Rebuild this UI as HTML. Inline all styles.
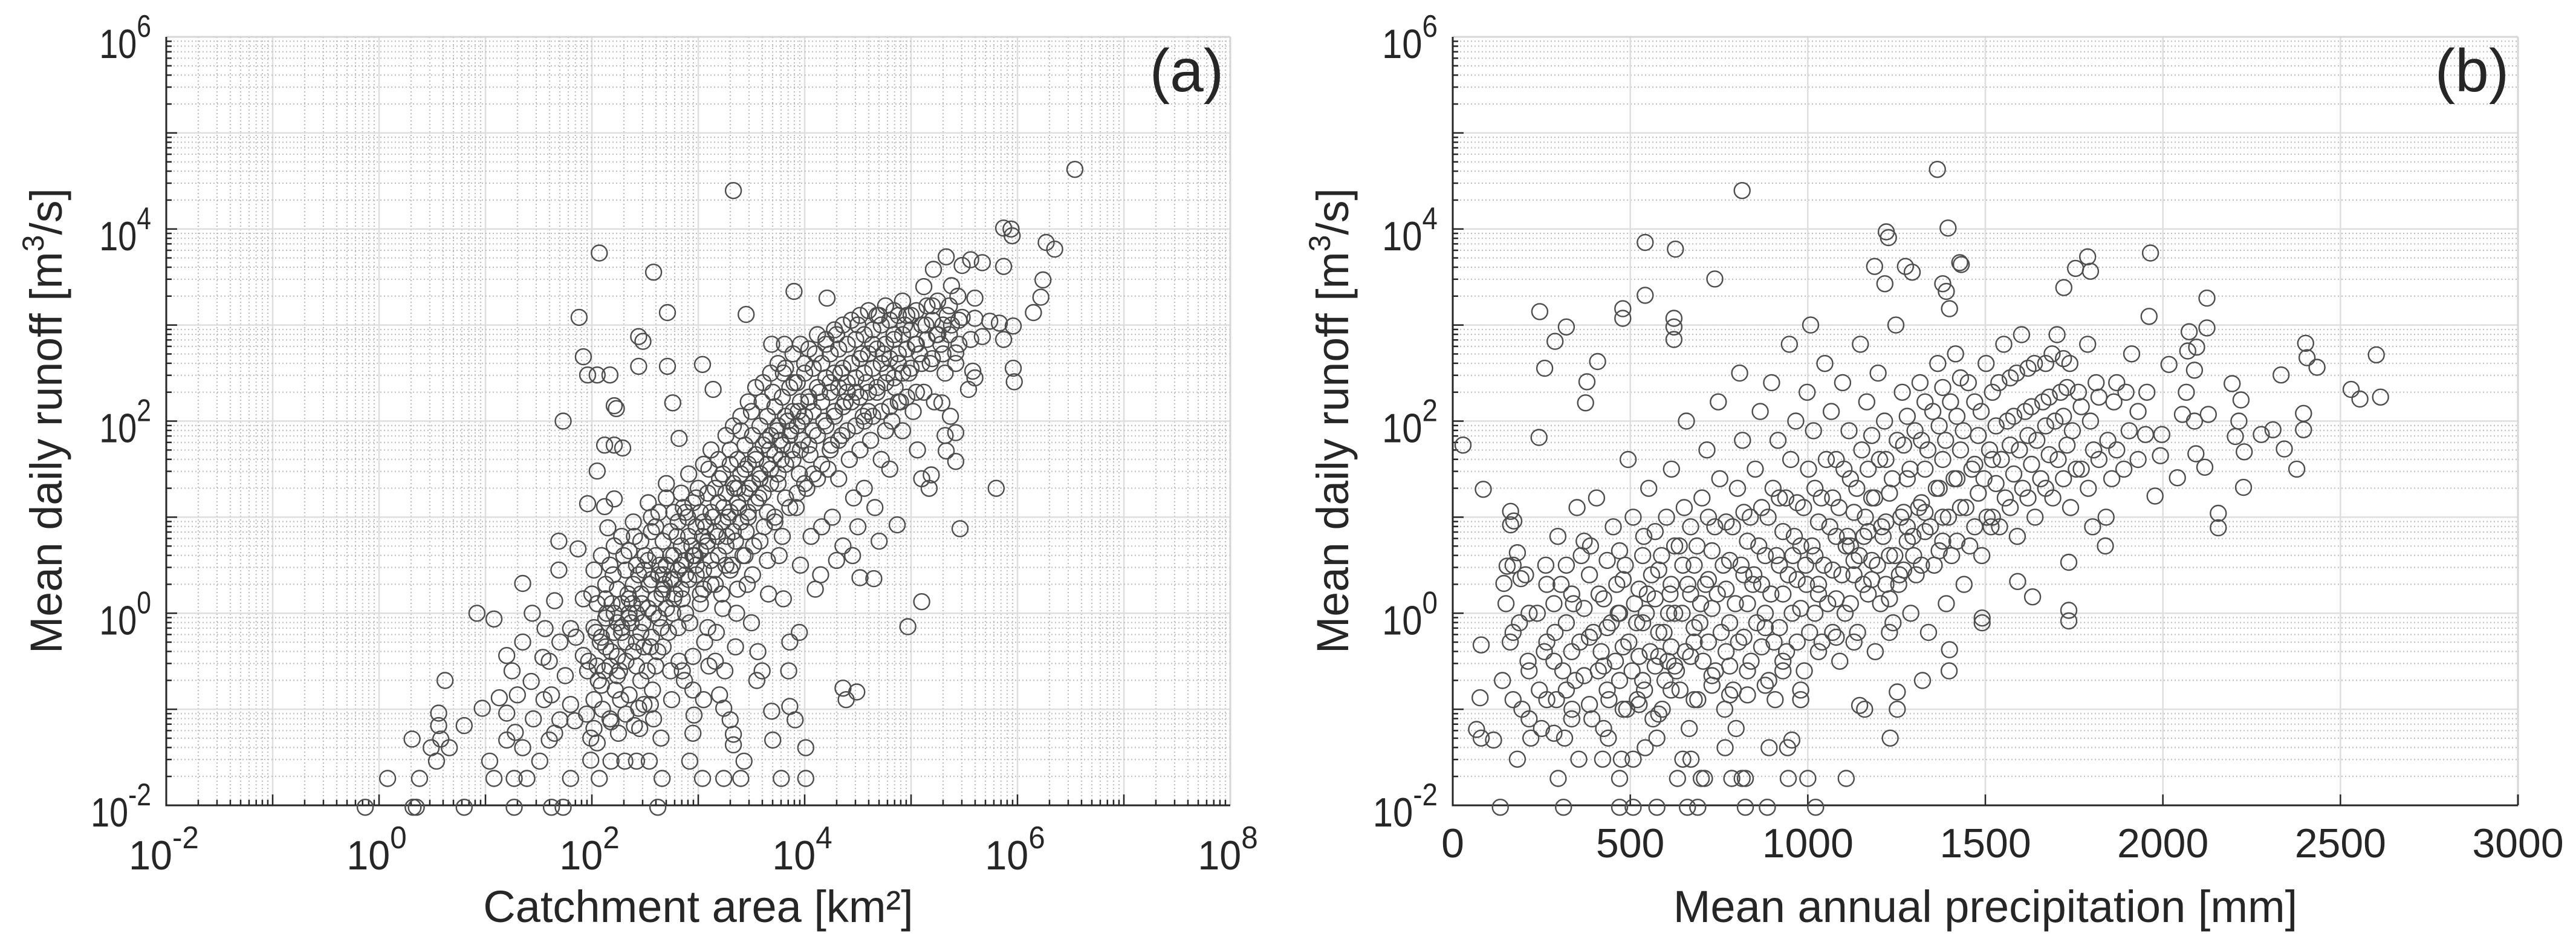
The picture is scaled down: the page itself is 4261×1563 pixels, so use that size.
<!DOCTYPE html>
<html><head><meta charset="utf-8"><title>Runoff scatter</title>
<style>html,body{margin:0;padding:0;background:#fff}svg{display:block}text{font-family:"Liberation Sans",Arial,sans-serif;fill:#262626}</style>
</head><body>
<svg id="fig" width="4261" height="1563" viewBox="0 0 4261 1563" xmlns="http://www.w3.org/2000/svg">
<rect x="0" y="0" width="4261" height="1563" fill="#fff"/>
<g id="panelA"></g>
<g id="panelB"></g>
</svg>
<script>
// ---- data (log10 values for log axes) ----
const yTickExponents = [-2, 0, 2, 4, 6];
const xTickExponentsA = [-2, 0, 2, 4, 6, 8];
const xTickLabelsB = [0, 500, 1000, 1500, 2000, 2500, 3000];
// panel (a): [log10 catchment area km2, log10 mean daily runoff m3/s]
const catchmentRunoffPairs = [
[-0.13,-2.02],[0.08,-1.72],[0.32,-2.02],[0.35,-2.02],[0.38,-1.72],[0.31,-1.31],[0.54,-1.54],[0.49,-1.4],[0.58,-1.31],[0.56,-1.17],[0.56,-1.04],[0.66,-1.4],[0.62,-0.7],[0.8,-2.02],[0.8,-1.17],[0.92,0.0],[0.97,-0.99],[1.04,-1.54],[1.08,-1.72],[1.08,-0.06],[1.13,-0.88],[1.2,-1.04],[1.2,-1.32],[1.27,-2.02],[1.27,-1.72],[1.28,-1.24],[1.2,-0.44],[1.25,-0.6],[1.35,-0.3],[1.3,-0.85],[1.39,-1.72],[1.35,-1.4],[1.35,0.31],[1.44,0.0],[1.43,-0.71],[1.51,-1.54],[1.54,-0.46],[1.56,-0.16],[1.6,-1.32],[1.62,-0.85],[1.62,-2.02],[1.69,0.45],[1.69,0.75],[1.65,0.13],[1.7,-1.11],[1.73,2.0],[1.73,-2.02],[1.8,-1.72],[1.8,-0.16],[1.84,-1.12],[1.88,3.08],[1.87,0.67],[1.92,0.15],[1.92,-0.44],[1.96,1.14],[1.96,-0.6],[1.99,-1.3],[1.99,-1.53],[1.92,2.67],[1.96,2.48],[2.05,2.48],[2.17,2.48],[2.07,3.75],[2.05,1.48],[2.12,1.75],[2.21,1.75],[2.29,1.72],[2.23,2.13],[2.21,2.16],[2.21,1.19],[2.12,1.11],[2.15,0.89],[2.07,-1.72],[2.18,-1.54],[2.31,-1.54],[2.42,-1.54],[2.54,-1.54],[2.18,-1.13],[2.4,-1.17],[2.44,-0.99],[2.58,-1.1],[2.44,2.88],[2.48,2.83],[2.44,2.57],[2.58,3.55],[2.71,3.13],[2.71,2.57],[2.76,2.19],[2.82,1.82],[2.62,-2.02],[2.66,-1.72],[2.92,-1.54],[2.96,-1.06],[3.04,2.59],[3.14,2.33],[3.04,-1.72],[3.24,-1.72],[3.43,-1.54],[3.4,-1.72],[3.24,-0.99],[3.3,-1.11],[3.33,-1.26],[3.33,-1.37],[3.33,4.4],[3.45,3.11],[3.69,2.8],[3.81,2.8],[3.9,3.35],[3.69,-1.02],[3.7,-1.32],[3.78,-1.72],[3.86,-0.97],[3.91,-1.11],[4.01,-1.4],[4.01,-1.72],[4.21,3.28],[4.36,-0.78],[4.39,-0.9],[4.49,-0.82],[4.52,0.37],[4.65,0.36],[4.87,0.92],[4.97,-0.14],[5.1,0.12],[5.46,0.88],[5.8,1.3],[5.42,1.58],[5.42,1.88],[5.33,1.69],[5.32,1.85],[5.96,2.55],[5.97,2.41],[5.87,4.01],[5.95,3.93],[5.94,4.0],[6.27,3.86],[6.35,3.79],[6.24,3.47],[6.22,3.29],[6.15,3.13],[5.33,3.71],[5.21,3.58],[5.48,3.62],[5.56,3.68],[5.67,3.65],[5.87,3.61],[5.12,3.4],[5.38,3.41],[5.6,3.28],[5.48,3.08],[5.6,3.07],[5.74,3.04],[5.83,3.02],[5.96,2.99],[5.67,2.88],[5.56,2.85],[5.87,2.85],[5.42,2.71],[5.58,2.52],[5.6,2.45],[5.54,2.33],[5.29,2.19],[5.37,2.05],[5.19,1.44],[5.17,1.3],[6.54,4.62],
[2.02,-0.9],[1.97,-0.5],[2.04,-0.2],[2.0,0.2],[2.06,-0.7],
[2.12,-0.6],[2.08,-0.3],[2.14,0.0],[2.1,-1.0],[2.13,0.3],
[2.22,-0.8],[2.18,-0.4],[2.24,-0.1],[2.2,0.4],[2.26,-0.6],[2.19,0.1],
[2.32,-0.5],[2.28,-0.2],[2.34,0.2],[2.3,0.6],[2.27,-0.9],[2.35,0.0],
[2.42,-0.3],[2.38,0.1],[2.44,0.4],[2.4,0.8],[2.46,-0.7],[2.37,-0.1],
[2.52,-0.6],[2.48,-0.1],[2.54,0.3],[2.5,0.6],[2.56,1.0],[2.47,0.1],
[2.62,-0.4],[2.58,0.0],[2.64,0.5],[2.6,0.9],[2.66,0.2],[2.57,-0.8],
[2.72,-0.2],[2.68,0.3],[2.74,0.6],[2.7,1.2],[2.76,0.0],[2.67,0.4],
[2.82,-0.5],[2.78,0.2],[2.84,0.5],[2.8,0.8],[2.86,1.1],[2.77,0.35],
[2.92,-0.1],[2.88,0.4],[2.94,0.7],[2.9,1.0],[2.96,0.6],[2.87,-0.7],
[3.02,0.1],[2.98,0.5],[3.04,0.8],[3.0,1.3],[3.06,-0.3],[2.97,0.6],
[3.12,0.3],[3.08,0.7],[3.14,1.0],[3.1,1.5],[3.16,-0.5],[3.07,0.9],
[3.22,0.2],[3.18,0.8],[3.24,1.1],[3.2,1.4],[3.26,0.5],[3.17,-0.2],
[3.32,0.5],[3.28,1.0],[3.34,1.3],[3.3,1.7],[3.36,0.0],[3.27,0.8],
[3.42,0.6],[3.38,1.1],[3.44,1.5],[3.4,1.9],[3.46,0.3],[3.37,1.3],
[3.52,0.7],[3.48,1.3],[3.54,1.6],[3.5,2.1],[3.56,-0.4],[3.47,1.0],
[3.62,0.9],[3.58,1.4],[3.64,1.8],[3.6,2.2],[3.66,0.2],[3.57,1.2],
[3.72,1.0],[3.68,1.5],[3.74,1.9],[3.7,2.3],[3.76,0.6],[3.67,1.7],
[3.82,1.2],[3.78,1.6],[3.84,2.0],[3.8,2.5],[3.86,-0.3],[3.77,1.8],
[3.92,1.1],[3.88,1.7],[3.94,2.1],[3.9,2.4],[3.96,0.5],[3.87,1.9],
[4.02,1.3],[3.98,1.8],[4.04,2.2],[4.0,2.6],[4.06,0.8],[3.97,2.0],
[4.12,1.4],[4.08,1.9],[4.14,2.3],[4.1,2.7],[4.16,0.9],
[4.22,1.5],[4.18,2.0],[4.24,2.4],[4.2,2.8],[4.26,1.0],
[4.32,1.4],[4.28,2.1],[4.34,2.5],[4.3,2.9],[4.36,0.7],
[4.42,1.6],[4.38,2.2],[4.44,2.6],[4.4,2.3],[4.46,1.2],
[4.52,1.7],[4.48,2.3],[4.54,2.7],[4.5,3.0],[4.56,1.3],
[4.62,1.8],[4.58,2.4],[4.64,2.8],[4.6,2.1],[4.66,1.1],
[4.72,1.6],[4.68,2.3],[4.74,2.7],[4.7,3.1],[4.76,1.9],
[4.82,2.0],[4.78,2.5],[4.84,2.9],[4.8,1.5],
[4.92,1.9],[4.88,2.6],[4.94,3.0],[4.9,2.2],
[5.02,2.1],[4.98,2.5],[5.04,2.8],[5.0,3.1],[5.06,1.7],
[5.12,2.3],[5.08,2.7],[5.14,3.0],[5.1,1.4],
[5.22,2.2],[5.18,2.6],[5.24,2.9],[5.2,3.2],
[5.32,2.5],[5.28,2.8],[5.34,3.1],
[5.42,2.6],[5.38,3.0],[5.44,3.3],
[2.55,-0.35],[2.85,0.15],[3.15,0.45],[3.45,0.85],[3.75,1.35],[4.05,1.65],[4.35,1.85],[2.65,-0.15],[3.05,0.25],[3.35,0.75],[3.65,1.05],[3.95,1.45],[4.25,1.75],[4.55,2.05],[4.85,2.35],[2.45,-1.2],[2.75,-0.9],[3.05,-0.9],[3.55,-0.7],[3.25,-0.6],[2.95,-1.25],[3.85,-0.6],[4.15,0.4],[4.45,0.6],
[1.55,-0.9],[1.75,-0.65],[1.85,-0.25],[1.95,-1.05],[2.05,-1.35],[2.25,-1.25],[2.35,-0.85],[2.55,-0.95],[2.65,-1.3],[2.85,-0.6],[2.95,-0.8],[3.1,-0.55],[3.2,-0.85],[3.35,-0.35],[3.5,-0.1],[3.6,-0.6],[3.8,0.15],[3.95,-0.2],[4.1,0.25],[4.3,0.55],[4.5,0.9],[4.7,0.75],[1.45,-1.1],[1.65,-1.25],[1.8,-0.95],[1.6,-0.5],[1.7,-0.3]
];
// panel (a) dense core: [log10 area, [log10 runoff values]]
const catchmentCoreGroups = [
[2.02,[-0.15,0.45,-1.2]],[2.05,[-0.55,0.1]],[2.09,[-0.25,-0.75,0.6]],
[2.13,[-0.35,0.15,-0.05]],[2.17,[-0.55,0.5,-1.1]],[2.21,[0.0,-0.2,0.7]],
[2.24,[-0.45,0.25,-0.65]],[2.28,[0.1,-0.15,0.8]],[2.32,[-0.3,0.45,-1.05]],
[2.35,[0.15,-0.05,0.65]],[2.39,[-0.4,0.3,0.95]],[2.42,[0.0,-0.55,0.5]],
[2.46,[0.2,-0.2,0.75]],[2.49,[0.45,-0.35,-0.95]],[2.53,[0.05,0.55,1.15]],
[2.56,[-0.25,0.35,0.85]],[2.6,[0.15,0.6,-0.55]],[2.63,[0.4,-0.05,1.05]],
[2.67,[0.25,0.75,-0.35]],[2.7,[0.5,0.05,1.35]],[2.74,[0.35,0.85,-0.6]],
[2.77,[0.6,0.15,1.05]],[2.81,[0.45,0.95,-0.15]],[2.84,[0.7,0.25,1.25]],
[2.88,[0.55,1.05,0.0]],[2.91,[0.8,0.35,1.45]],[2.95,[0.6,1.15,-0.45]],
[2.98,[0.9,0.4,1.2]],[3.02,[0.65,1.05,0.2]],[3.05,[0.95,0.45,1.55]],
[3.09,[0.75,1.25,-0.15]],[3.12,[1.05,0.55,1.7]],[3.16,[0.85,1.3,0.3]],
[3.19,[1.15,0.6,1.6]],[3.23,[0.95,1.45,0.05]],[3.26,[1.25,0.7,1.85]],
[3.3,[1.05,1.55,0.45]],[3.33,[1.35,0.85,1.95]],[3.37,[1.15,1.6,0.25]],
[3.4,[1.45,0.95,2.05]],[3.44,[1.25,1.75,0.6]],[3.47,[1.55,1.05,2.2]],
[3.51,[1.35,1.85,0.4]],[3.54,[1.65,1.15,2.35]],[3.58,[1.45,1.95,0.75]],
[3.61,[1.75,1.25,2.4]],[3.65,[1.55,2.05,0.55]],[3.68,[1.85,1.35,2.5]],
[3.72,[1.65,2.15,0.95]],[3.75,[1.95,1.45,2.6]],[3.79,[1.75,2.25,0.8]],
[3.82,[2.05,1.55,2.55]],[3.86,[1.85,2.35,1.1]],[3.89,[2.1,1.6,2.7]],
[3.93,[1.95,2.4,1.25]],[3.96,[2.2,1.7,2.8]],[4.0,[2.05,2.5,1.35]],
[4.04,[2.25,1.75,2.75]],[4.08,[2.1,2.55,1.45]],[4.12,[2.35,1.85,2.9]],
[4.16,[2.2,2.6,1.55]],[4.2,[2.45,1.95,2.85]],[4.24,[2.3,2.7,1.7]],
[4.28,[2.5,2.05,2.95]],[4.32,[2.35,2.75,1.8]],[4.36,[2.55,2.15,3.0]],
[4.4,[2.4,2.8,1.9]],[4.44,[2.6,2.2,3.05]],[4.48,[2.45,2.85,1.95]],
[4.52,[2.65,2.25,3.1]],[4.56,[2.5,2.9,2.0]],[4.6,[2.7,2.3,3.15]],
[4.64,[2.55,2.95,2.05]],[4.68,[2.75,2.35,3.1]],[4.72,[2.6,3.0,2.1]],
[4.76,[2.8,2.4,3.2]],[4.8,[2.65,3.05,2.15]],[4.84,[2.85,2.45,3.15]],
[4.88,[2.7,3.1,2.2]],[4.92,[2.9,2.5,3.25]],[4.96,[2.75,3.1,2.25]],
[5.0,[2.95,2.55]],[5.05,[2.8,3.15,2.3]],[5.1,[3.0,2.6]],[5.15,[2.85,3.2]],
[5.2,[3.05,2.65]],[5.25,[2.9,3.25]],[5.3,[2.7,3.0]],[5.36,[2.9,3.2]],[5.45,[2.8,3.05]]
];
// panel (b): [mean annual precipitation mm, log10 mean daily runoff m3/s]
const precipRunoffPairs = [
[1365,4.62],[815,4.4],[1395,4.01],[542,3.86],[627,3.79],[1221,3.97],[1227,3.91],[1428,3.65],[1432,3.63],[1188,3.61],[1275,3.61],[1294,3.55],[1217,3.43],[738,3.48],[1380,3.43],[1390,3.35],[1399,3.17],[542,3.31],[1965,3.75],[1788,3.71],[1796,3.56],[1754,3.59],[1721,3.39],[2124,3.28],[1961,3.09],[245,3.14],[320,2.98],[288,2.83],[259,2.55],[479,3.17],[479,3.07],[623,3.07],[623,2.98],[623,2.85],[408,2.62],[378,2.41],[374,2.19],[243,1.83],[29,1.75],[86,1.29],[163,1.06],[172,0.96],[163,0.92],[182,0.63],[153,0.49],[144,0.31],[192,0.36],[80,-0.33],[77,-0.88],[67,-1.21],[80,-1.3],[115,-1.32],[134,-2.02],[182,-1.52],[297,-1.72],[312,-2.02],[355,-1.52],[422,-1.52],[475,-1.52],[508,-1.52],[470,-1.72],[470,-2.02],[508,-2.02],[575,-2.02],[661,-2.02],[690,-2.02],[648,-1.52],[671,-1.52],[633,-1.72],[700,-1.72],[709,-1.72],[786,-1.72],[815,-1.72],[824,-1.72],[824,-2.02],[886,-2.02],[945,-1.72],[1000,-1.72],[1022,-2.02],[1108,-1.72],[891,-1.4],[943,-1.4],[955,-1.32],[767,-1.4],[542,-1.4],[575,-1.3],[1232,-1.3],[1146,-0.96],[1160,-1.0],[1252,-1.0],[1252,-0.82],[1323,-0.7],[2156,1.04],[2156,0.89],[1735,0.53],[1591,0.33],[1633,0.17],[1735,0.03],[1735,-0.08],[1491,-0.05],[1491,-0.1],[1399,-0.38],[2530,2.33],[2555,2.23],[2613,2.25],[2601,2.69],[2402,2.81],[2406,2.66],[2434,2.56],[2333,2.48],[2195,2.39],[2220,2.22],[2396,2.08],[2396,1.91],[2277,1.86],[2310,1.91],[2342,1.71],[2377,1.5],[2214,2.0],[2204,1.84],[2229,1.68],[2227,1.31],[2017,2.59],[2066,2.3],[2055,2.07],[2089,2.0],[2128,2.07],[2074,2.93],[2124,2.97],[2070,2.73],[2095,2.77],[2089,2.53],[1955,2.3],[1951,1.86],[1997,1.86],[1993,1.64],[2041,1.41],[1978,1.22],[2093,1.66],[2118,1.52],
[140,-0.7],[162,-0.3],[150,0.1],
[195,-1.0],[212,-0.5],[188,-0.1],[205,0.4],[220,-1.3],
[244,-0.8],[258,-0.4],[238,0.0],[262,0.5],[250,-1.2],
[292,-0.9],[310,-0.6],[288,-0.2],[305,0.3],[296,0.8],[315,-1.3],
[345,-0.7],[358,-0.3],[340,0.1],[362,0.6],[350,1.1],[336,-1.0],
[392,-1.1],[410,-0.6],[396,-0.2],[412,0.2],[388,0.7],[405,1.2],[418,-0.4],
[440,-0.9],[458,-0.5],[446,-0.1],[462,0.3],[452,0.9],[438,-1.3],[466,0.0],
[490,-1.0],[505,-0.6],[496,-0.3],[512,0.1],[486,0.5],[508,1.0],[494,1.6],[518,-0.1],
[540,-0.8],[556,-0.4],[545,0.0],[560,0.4],[538,0.8],[552,1.3],[564,-1.1],[548,0.2],
[590,-1.0],[606,-0.5],[595,-0.2],[612,0.2],[588,0.6],[602,1.0],[616,1.5],[598,-0.7],[608,0.0],
[640,-0.8],[655,-0.4],[646,0.0],[662,0.3],[638,0.7],[652,1.1],[666,-1.2],[648,0.5],[658,2.0],
[690,-0.9],[705,-0.5],[696,-0.1],[712,0.3],[688,0.7],[702,1.2],[716,1.7],[698,0.1],
[740,-0.6],[756,-0.2],[745,0.2],[762,0.5],[738,0.9],[752,1.4],[766,-1.0],[748,2.2],
[790,-0.8],[805,-0.3],[796,0.1],[812,0.5],[788,0.9],[802,1.3],[816,1.8],[798,-1.2],[808,2.5],
[840,-0.5],[856,-0.1],[845,0.3],[862,0.7],[838,1.0],[852,1.5],[866,2.1],[848,0.4],
[890,-0.7],[905,-0.3],[896,0.2],[912,0.6],[888,1.0],[902,1.3],[916,1.8],[898,2.4],[908,-0.9],
[940,-0.4],[956,0.0],[945,0.4],[962,0.8],[938,1.2],[952,1.6],[966,2.0],[948,2.8],[958,0.6],
[990,-0.6],[1005,-0.2],[996,0.3],[1012,0.7],[988,1.1],[1002,1.5],[1016,1.9],[998,2.3],[1008,3.0],[994,0.5],
[1040,-0.3],[1056,0.1],[1045,0.5],[1062,0.9],[1038,1.2],[1052,1.6],[1066,2.1],[1048,2.6],
[1090,-0.5],[1105,0.0],[1096,0.4],[1112,0.8],[1088,1.1],[1102,1.5],[1116,1.9],[1098,2.4],[1108,0.7],
[1140,-0.2],[1156,0.3],[1145,0.6],[1162,1.0],[1138,1.3],[1152,1.7],[1166,2.2],[1148,2.8],[1158,0.8],
[1190,-0.4],[1205,0.1],[1196,0.5],[1212,0.8],[1188,1.2],[1202,1.6],[1216,2.0],[1198,2.5],[1208,0.9],
[1240,-0.1],[1256,0.3],[1245,0.6],[1262,1.0],[1238,1.4],[1252,1.8],[1266,2.3],[1248,3.0],[1258,0.4],
[1290,0.0],[1305,0.4],[1296,0.8],[1312,1.1],[1288,1.5],[1302,1.9],[1316,2.4],[1298,0.6],
[1340,-0.2],[1356,0.5],[1345,0.9],[1362,1.3],[1338,1.7],[1352,2.1],[1366,2.6],
[1390,0.1],[1405,0.6],[1396,1.0],[1412,1.4],[1388,1.8],[1402,2.2],[1416,2.7],[1398,-0.6],
[1440,0.3],[1456,0.7],[1445,1.1],[1462,1.5],[1438,1.9],[1452,2.4],
[1490,0.6],[1505,1.0],[1496,1.4],[1512,1.7],[1488,2.1],[1502,2.6],[1516,0.9],
[1540,0.9],[1556,1.2],[1545,1.6],[1562,2.0],[1538,2.4],[1552,2.8],
[1590,0.8],[1605,1.3],[1596,1.7],[1612,2.1],[1588,2.5],[1602,2.9],
[1640,1.0],[1656,1.4],[1645,1.8],[1662,2.2],[1638,2.6],
[1690,1.2],[1705,1.6],[1696,2.0],[1712,2.3],[1688,2.7],[1702,2.9],
[1740,1.1],[1756,1.5],[1745,1.9],[1762,2.3],[1738,2.6],
[1790,1.3],[1805,1.7],[1796,2.0],[1812,2.4],[1788,2.8],[1802,0.9],
[1840,1.0],[1856,1.4],[1845,1.8],[1862,2.2],[1838,0.7],
[1890,1.5],[1905,1.9],[1896,2.3],[1912,2.7],
[520,-0.9],[580,-0.45],[630,-0.6],[680,-0.3],[730,-0.75],[780,-0.55],[830,-0.85],[880,-0.15],[930,-0.6],[980,-0.9],[1030,0.2],[1080,-0.25],[1130,0.55],[1180,0.35],[1230,0.15],[1280,0.9],[1330,1.05],[1380,0.75]
];
// panel (b) dense core: [precipitation mm, [log10 runoff values]]
const precipCoreGroups = [
[170,[-0.9,-0.2,0.5]],[215,[-0.6,0.0,-1.1]],[265,[-0.3,-0.9,0.3]],[285,[-0.5,0.1,-1.25]],
[320,[-0.8,-0.1,0.5]],[335,[-0.4,0.2,-1.1]],[370,[-0.65,0.05,0.75]],[385,[-0.25,-0.95,0.4]],
[425,[-0.55,0.15,-1.2]],[435,[-0.15,0.55,-0.8]],[470,[-0.7,0.0,0.65]],[480,[-0.35,0.35,-1.0]],
[525,[-0.45,0.25,-0.95]],[535,[-0.1,0.6,-0.7]],[570,[-0.55,0.15,0.85]],[580,[-0.2,0.45,-1.05]],
[615,[-0.35,0.3,-0.8]],[625,[0.0,0.7,-0.55]],[670,[-0.45,0.2,0.9]],[680,[-0.15,0.5,-0.9]],
[720,[-0.3,0.35,1.0]],[730,[0.05,0.65,-0.65]],[770,[-0.4,0.25,0.95]],[780,[-0.1,0.55,-0.85]],
[820,[-0.25,0.4,1.05]],[830,[0.1,0.75,-0.6]],[870,[-0.35,0.3,1.1]],[880,[0.0,0.6,-0.75]],
[920,[-0.15,0.5,1.2]],[930,[0.2,0.85,-0.5]],[970,[-0.3,0.35,1.15]],[980,[0.05,0.7,-0.8]],
[1020,[0.0,0.6,1.3]],[1030,[0.3,0.95,-0.4]],[1070,[-0.2,0.45,1.2]],[1080,[0.15,0.8,1.6]],
[1120,[0.1,0.7,1.4]],[1130,[0.4,1.05,-0.3]],[1170,[0.2,0.85,1.5]],[1180,[0.55,1.2,1.85]],
[1220,[0.3,0.95,1.6]],[1230,[0.6,1.25,-0.2]],[1270,[0.45,1.05,1.75]],[1280,[0.75,1.4,2.05]],
[1320,[0.5,1.15,1.8]],[1330,[0.85,1.5,2.2]],[1370,[0.65,1.3,1.95]],[1380,[1.0,1.6,2.35]],
[1420,[0.75,1.4,2.05]],[1430,[1.1,1.7,2.45]],[1470,[0.9,1.55,2.2]],[1480,[1.25,1.85]],
[1520,[1.0,1.6,2.3]],[1530,[1.35,1.95]],[1570,[1.1,1.75,2.45]],[1580,[1.45,2.05]],
[1620,[1.2,1.85,2.55]],[1630,[1.55,2.15]],[1670,[1.3,1.95,2.6]],[1680,[1.65,2.25]],
[1720,[1.4,2.05,2.65]],[1730,[1.75,2.35]],[1770,[1.5,2.15]],[1820,[1.6,2.25]],[1870,[1.7,2.4]],[1930,[1.6,2.1]]
];

// ---- layout ----
const NS = 'http://www.w3.org/2000/svg';
const yTop = 61, yBot = 1332;
const yMinExp = -2, yMaxExp = 6;
function yScale(e){ return yBot - (e - yMinExp) / (yMaxExp - yMinExp) * (yBot - yTop); }
const axA = {x0: 275, x1: 2035, min: -2, max: 8};
const axB = {x0: 2403, x1: 4165, min: 0, max: 3000};
function xScaleA(e){ return axA.x0 + (e - axA.min) / (axA.max - axA.min) * (axA.x1 - axA.x0); }
function xScaleB(v){ return axB.x0 + (v - axB.min) / (axB.max - axB.min) * (axB.x1 - axB.x0); }

function mk(tag, attrs, parent){
  const el = document.createElementNS(NS, tag);
  for (const k in attrs) el.setAttribute(k, attrs[k]);
  parent.appendChild(el);
  return el;
}
function line(p, x1, y1, x2, y2, stroke, w, dash){
  const l = mk('line', {x1:x1, y1:y1, x2:x2, y2:y2, stroke:stroke, 'stroke-width':w}, p);
  if (dash) l.setAttribute('stroke-dasharray', dash);
  return l;
}
const MAJ = '#dedede', MIN = '#bcbcbc', AX = '#262626';

function drawYGridAndTicks(p, x0, x1){
  const grid = mk('g', {}, p);
  
  
  const ticks = mk('g', {}, p);
  
  
  for (let d = yMinExp; d < yMaxExp; d++){
    for (let m = 2; m <= 9; m++){
      const y = yScale(d + Math.log10(m));
      line(grid, x0, y, x1, y, MIN, 2, '2,4');
      line(ticks, x0, y, x0 + 9, y, AX, 2.5);
    }
  }
  for (let d = yMinExp; d <= yMaxExp; d++){
    const y = yScale(d);
    line(grid, x0, y, x1, y, MAJ, 2.5);
    line(ticks, x0, y, x0 + 18, y, AX, 2.5);
  }
}
function powLabel(p, x, y, exp, anchor, sx, name){
  const g = mk('g', {transform: 'translate(' + x + ',' + y + ') scale(' + sx + ',1)'}, p);
  
  
  const t = mk('text', {x: 0, y: 0, 'font-size': 68, 'text-anchor': anchor}, g);
  t.appendChild(document.createTextNode('10'));
  const s = mk('tspan', {'font-size': 52, dy: -35}, t);
  s.textContent = String(exp);
  return g;
}
function panelLetter(p, x, txt, name){
  const t = mk('text', {x: x, y: 151, 'font-size': 100, 'text-anchor': 'end', fill: '#000'}, p);
  
  
  t.textContent = txt;
}
function yTitle(p, xBase, name){
  const t = mk('text', {x: 0, y: 0, 'font-size': 74, 'text-anchor': 'middle', transform: 'translate(' + xBase + ',696) rotate(-90)', textLength: 770, lengthAdjust: 'spacingAndGlyphs'}, p);
  
  
  t.appendChild(document.createTextNode('Mean daily runoff [m'));
  const s = mk('tspan', {'font-size': 50, dy: -30}, t); s.textContent = '3';
  const r = mk('tspan', {dy: 30}, t); r.textContent = '/s]';
}
function marks(p, pts, groups, xf, name){
  const g = mk('g', {fill: 'none', stroke: '#4d4d4d', 'stroke-width': 2.4}, p);
  
  
  const all = pts.slice();
  groups.forEach(function(gr){ gr[1].forEach(function(v){ all.push([gr[0], v]); }); });
  all.forEach(function(pt){
    const c = mk('circle', {cx: xf(pt[0]).toFixed(1), cy: yScale(pt[1]).toFixed(1), r: 13}, g);
    
    
  });
}

// ---- panel A ----
(function(){
  const p = document.getElementById('panelA');
  const xg = mk('g', {}, p);
  
  
  const xt = mk('g', {}, p);
  
  
  for (let d = axA.min; d < axA.max; d++){
    for (let m = 2; m <= 9; m++){
      const x = xScaleA(d + Math.log10(m));
      line(xg, x, yTop, x, yBot, MIN, 2, '2,4');
      line(xt, x, yBot, x, yBot - 9, AX, 2.5);
    }
  }
  for (let d = axA.min; d <= axA.max; d++){
    const x = xScaleA(d);
    line(xg, x, yTop, x, yBot, MAJ, 2.5);
    line(xt, x, yBot, x, yBot - 18, AX, 2.5);
  }
  drawYGridAndTicks(p, axA.x0, axA.x1);
  const box = mk('g', {}, p);
  
  
  line(box, axA.x0, yTop, axA.x1, yTop, '#d6d6d6', 3);
  line(box, axA.x1, yTop, axA.x1, yBot, '#d6d6d6', 3);
  marks(p, catchmentRunoffPairs, catchmentCoreGroups, xScaleA, 'scatter-series-a');
  line(box, axA.x0, yTop, axA.x0, yBot + 1.5, AX, 3);
  line(box, axA.x0 - 1.5, yBot, axA.x1, yBot, AX, 3);
  yTickExponents.forEach(function(e){ powLabel(p, 250, yScale(e) + 35, e, 'end', 0.82, 'y-tick-label'); });
  xTickExponentsA.forEach(function(e){ powLabel(p, xScaleA(e) - 4, 1438, e, 'middle', 0.95, 'x-tick-label'); });
  yTitle(p, 102, 'y-axis-title-a');
  const xtT = mk('text', {x: (axA.x0 + axA.x1) / 2, y: 1525, 'font-size': 74, 'text-anchor': 'middle'}, p);
  
  
  xtT.textContent = 'Catchment area [km²]';
  panelLetter(p, 2024, '(a)', 'panel-label-a');
})();

// ---- panel B ----
(function(){
  const p = document.getElementById('panelB');
  drawYGridAndTicks(p, axB.x0, axB.x1);
  const xg = mk('g', {}, p);
  
  
  const xt = mk('g', {}, p);
  
  
  xTickLabelsB.forEach(function(v){
    const x = xScaleB(v);
    line(xg, x, yTop, x, yBot, MAJ, 2.5);
    line(xt, x, yBot, x, yBot - 18, AX, 2.5);
  });
  const box = mk('g', {}, p);
  
  
  line(box, axB.x0, yTop, axB.x1, yTop, '#d6d6d6', 3);
  line(box, axB.x1, yTop, axB.x1, yBot, '#d6d6d6', 3);
  marks(p, precipRunoffPairs, precipCoreGroups, xScaleB, 'scatter-series-b');
  line(box, axB.x0, yTop, axB.x0, yBot + 1.5, AX, 3);
  line(box, axB.x0 - 1.5, yBot, axB.x1, yBot, AX, 3);
  line(box, axB.x1, yBot, axB.x1, yBot - 18, AX, 3);
  yTickExponents.forEach(function(e){ powLabel(p, 2378, yScale(e) + 35, e, 'end', 0.88, 'y-tick-label'); });
  xTickLabelsB.forEach(function(v){
    const t = mk('text', {x: xScaleB(v), y: 1418, 'font-size': 68, 'text-anchor': 'middle'}, p);
    
    
    t.textContent = String(v);
  });
  yTitle(p, 2230, 'y-axis-title-b');
  const xtT = mk('text', {x: (axB.x0 + axB.x1) / 2, y: 1525, 'font-size': 74, 'text-anchor': 'middle'}, p);
  
  
  xtT.textContent = 'Mean annual precipitation [mm]';
  panelLetter(p, 4150, '(b)', 'panel-label-b');
})();
</script>
</body></html>
